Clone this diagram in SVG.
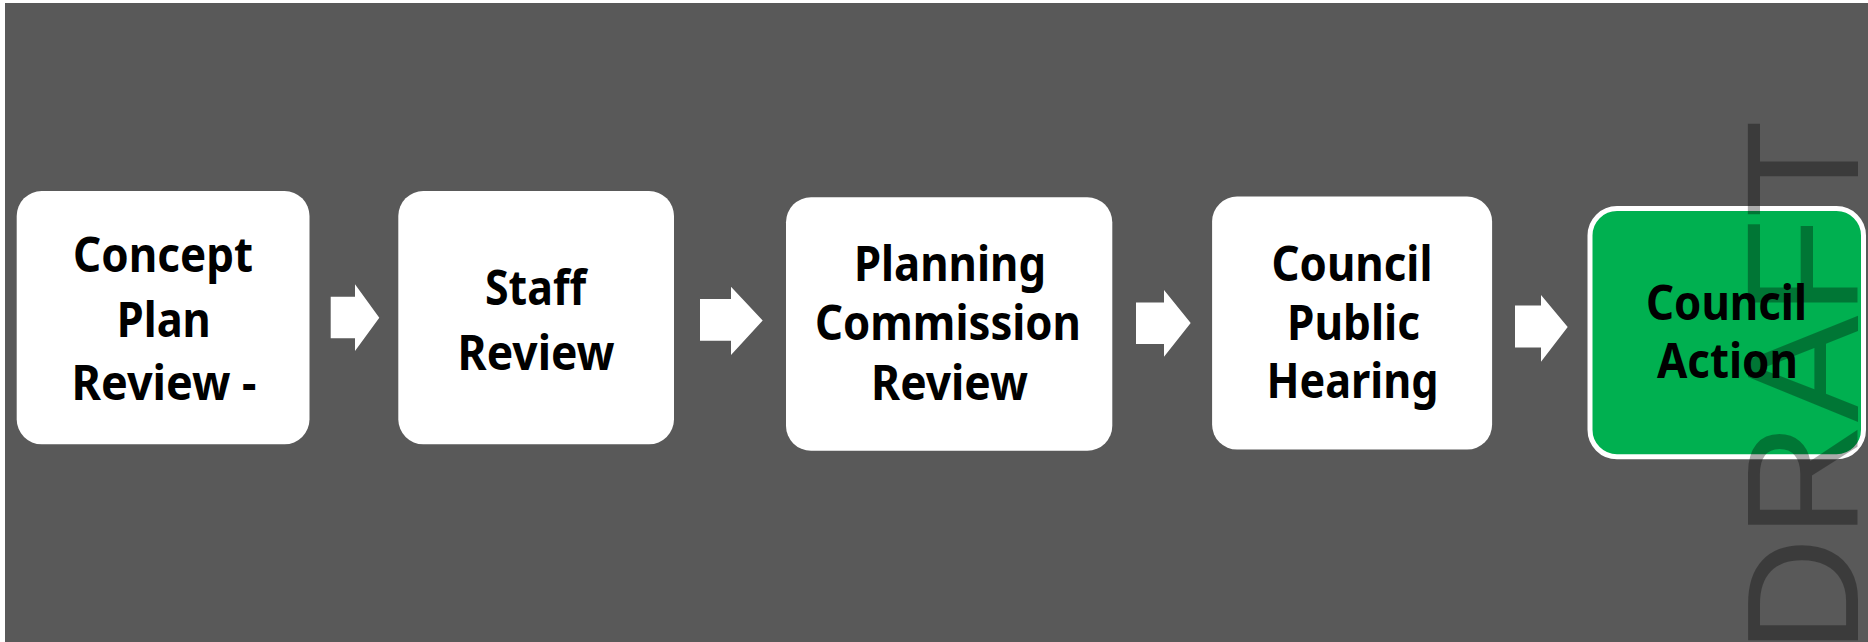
<svg xmlns="http://www.w3.org/2000/svg" width="1868" height="642" viewBox="0 0 1868 642">
<style>
.bg{fill:#595959}
.box{fill:#ffffff}
.green{fill:#00b050;stroke:#ffffff;stroke-width:5}
.lbl{font-family:"Noto Sans","Liberation Sans",sans-serif;font-weight:700;font-size:47.5px;fill:#000000;text-anchor:middle}
.arrow{fill:#ffffff}
.wm{font-family:"Liberation Sans","DejaVu Sans",sans-serif;font-weight:400;font-size:160px;fill:#000000;fill-opacity:0.33;text-anchor:end}
</style>
<rect x="0" y="0" width="1868" height="642" fill="#ffffff"/>
<rect class="bg" x="5" y="3" width="1863" height="639"/>
<g id="connectors">
<polygon class="arrow" points="330.7,296.7 355,296.7 355,284.3 379.3,317.7 355,351 355,338.3 330.7,338.3"/>
<polygon class="arrow" points="700,299 731,299 731,286.7 762.7,320.5 731,355 731,340.7 700,340.7"/>
<polygon class="arrow" points="1136,302.5 1164,302.5 1164,290 1190.7,323 1164,356.8 1164,344 1136,344"/>
<polygon class="arrow" points="1515,305.5 1541,305.5 1541,295 1567.7,327 1541,361.7 1541,347.5 1515,347.5"/>
</g>
<g id="node-concept">
<rect class="box" x="16.7" y="191" width="292.8" height="253.3" rx="25"/>
<text class="lbl" x="163" y="272" textLength="180" lengthAdjust="spacingAndGlyphs">Concept</text>
<text class="lbl" x="163.8" y="336.5" textLength="94" lengthAdjust="spacingAndGlyphs">Plan</text>
<text class="lbl" x="164" y="400" textLength="185" lengthAdjust="spacingAndGlyphs">Review -</text>
</g>
<g id="node-staff">
<rect class="box" x="398.3" y="191" width="275.7" height="253.3" rx="25"/>
<text class="lbl" x="535.5" y="305" textLength="101" lengthAdjust="spacingAndGlyphs">Staff</text>
<text class="lbl" x="536.1" y="370" textLength="157" lengthAdjust="spacingAndGlyphs">Review</text>
</g>
<g id="node-planning">
<rect class="box" x="786" y="197.3" width="326.3" height="253.4" rx="25"/>
<text class="lbl" x="950" y="281" textLength="192" lengthAdjust="spacingAndGlyphs">Planning</text>
<text class="lbl" x="948" y="340" textLength="266" lengthAdjust="spacingAndGlyphs">Commission</text>
<text class="lbl" x="949.5" y="400" textLength="157" lengthAdjust="spacingAndGlyphs">Review</text>
</g>
<g id="node-hearing">
<rect class="box" x="1212.1" y="196.6" width="280" height="253" rx="25"/>
<text class="lbl" x="1352" y="281" textLength="161" lengthAdjust="spacingAndGlyphs">Council</text>
<text class="lbl" x="1353.5" y="340" textLength="133" lengthAdjust="spacingAndGlyphs">Public</text>
<text class="lbl" x="1352.5" y="398" textLength="172" lengthAdjust="spacingAndGlyphs">Hearing</text>
</g>
<g id="node-action">
<rect class="green" x="1590" y="208.5" width="273.5" height="248.3" rx="27"/>
<text class="lbl" x="1726.5" y="320" textLength="161" lengthAdjust="spacingAndGlyphs">Council</text>
<text class="lbl" x="1727.5" y="378" textLength="141" lengthAdjust="spacingAndGlyphs">Action</text>
</g>
<g id="watermark">
<text class="wm" transform="translate(1858,120) rotate(-90)">DRAFT</text>
</g>
</svg>
